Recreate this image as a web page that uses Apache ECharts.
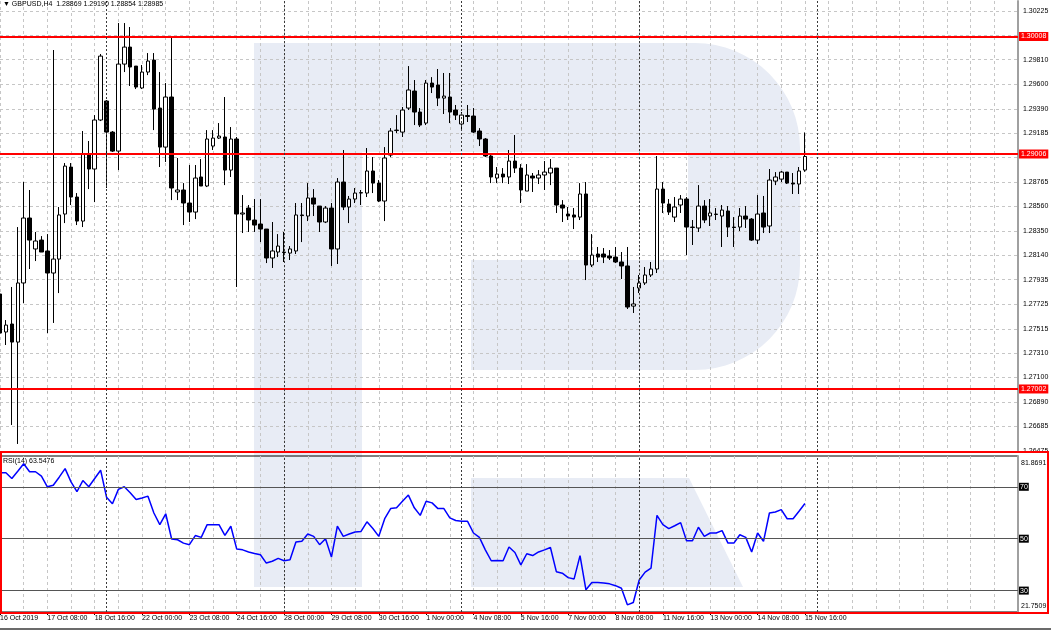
<!DOCTYPE html>
<html><head><meta charset="utf-8">
<script src="https://cdn.jsdelivr.net/npm/echarts@6/dist/echarts.min.js"></script>
<style>html,body{margin:0;padding:0;background:#fff}#c{width:1051px;height:630px}</style>
</head><body><div id="c"></div>
<script>
// ---------------- DATA ----------------
const symbolName = 'GBPUSD,H4';
const opens = [
1.27812,1.27488,1.27556,1.27402,1.27906,1.28460,1.28196,1.28272,1.28179,1.27991,
1.28110,1.28494,1.28895,1.28639,1.28434,1.29006,1.28878,1.29296,1.29458,1.29193,
1.29031,1.29773,1.29918,1.29756,1.29569,1.29705,1.29807,1.29398,1.29065,1.29492,
1.28682,1.28699,1.28588,1.28511,1.28810,1.28733,1.29074,1.29142,1.29151,1.28869,
1.29134,1.28494,1.28545,1.28443,1.28409,1.28366,1.28119,1.28170,1.28170,1.28161,
1.28179,1.28486,1.28477,1.28631,1.28562,1.28426,1.28545,1.28196,1.28767,1.28554,
1.28622,1.28673,1.28673,1.28861,1.28758,1.28605,1.28997,1.29206,1.29193,1.29398,
1.29543,1.29364,1.29270,1.29611,1.29594,1.29483,1.29492,1.29381,1.29262,1.29334,
1.29330,1.29202,1.29134,1.28989,1.28801,1.28835,1.28810,1.28946,1.28886,1.28690,
1.28818,1.28801,1.28827,1.28844,1.28886,1.28571,1.28494,1.28486,1.28468,1.28665,
1.28059,1.28153,1.28153,1.28136,1.28127,1.28085,1.28051,1.27709,1.27863,1.27906,
1.27974,1.28025,1.28707,1.28579,1.28468,1.28571,1.28622,1.28379,1.28375,1.28562,
1.28477,1.28490,1.28477,1.28520,1.28383,1.28383,1.28477,1.28451,1.28272,1.28503,
1.28392,1.28775,1.28792,1.28852,1.28758,1.28750,1.28869];
const highs = [
1.27889,1.27590,1.27872,1.28383,1.28767,1.28699,1.28341,1.28306,1.28323,1.29893,
1.28554,1.28929,1.28929,1.28673,1.29202,1.29117,1.29338,1.29859,1.29466,1.29202,
1.30123,1.30123,1.30089,1.29756,1.29765,1.29867,1.29867,1.29705,1.29611,1.30012,
1.28972,1.28758,1.28912,1.28912,1.28963,1.29210,1.29210,1.29270,1.29492,1.29236,
1.29151,1.28656,1.28571,1.28622,1.28622,1.28366,1.28426,1.28323,1.28341,1.28221,
1.28588,1.28588,1.28758,1.28707,1.28562,1.28562,1.28588,1.28801,1.29040,1.28648,
1.28716,1.28699,1.29057,1.28980,1.28784,1.29065,1.29227,1.29338,1.29407,1.29756,
1.29637,1.29398,1.29637,1.29662,1.29731,1.29697,1.29697,1.29424,1.29364,1.29424,
1.29398,1.29227,1.29142,1.29014,1.28895,1.28886,1.29040,1.29168,1.28920,1.28920,
1.28844,1.28869,1.28946,1.28963,1.28886,1.28613,1.28554,1.28545,1.28758,1.28767,
1.28323,1.28213,1.28204,1.28187,1.28213,1.28170,1.28213,1.27872,1.27974,1.28042,
1.28085,1.28989,1.28767,1.28622,1.28639,1.28656,1.28639,1.28443,1.28741,1.28613,
1.28622,1.28545,1.28571,1.28562,1.28468,1.28545,1.28562,1.28460,1.28656,1.28648,
1.28878,1.28852,1.28861,1.28852,1.28844,1.28895,1.29190];
const lows = [
1.27420,1.27377,1.26695,1.26533,1.27735,1.28025,1.28093,1.28170,1.27479,1.27565,
1.27820,1.28417,1.28571,1.28400,1.28383,1.28707,1.28596,1.29287,1.28716,1.29023,
1.28869,1.29705,1.29586,1.29560,1.29560,1.29679,1.29210,1.28895,1.28938,1.28613,
1.28613,1.28400,1.28426,1.28451,1.28733,1.28724,1.29040,1.29134,1.28741,1.28810,
1.27872,1.28332,1.28341,1.28341,1.28255,1.28076,1.28034,1.28127,1.28085,1.28102,
1.28153,1.28255,1.28434,1.28477,1.28341,1.28417,1.28051,1.28068,1.28528,1.28417,
1.28588,1.28571,1.28639,1.28673,1.28596,1.28434,1.28980,1.29185,1.29151,1.29381,
1.29253,1.29236,1.29253,1.29526,1.29415,1.29347,1.29270,1.29296,1.29219,1.29279,
1.29185,1.29074,1.28980,1.28758,1.28758,1.28758,1.28750,1.28844,1.28588,1.28690,
1.28682,1.28750,1.28699,1.28741,1.28503,1.28426,1.28443,1.28366,1.28443,1.27931,
1.28042,1.28085,1.28076,1.28102,1.28076,1.27940,1.27684,1.27650,1.27820,1.27889,
1.27957,1.27991,1.28503,1.28486,1.28426,1.28503,1.28144,1.28230,1.28341,1.28417,
1.28392,1.28443,1.28213,1.28298,1.28213,1.28349,1.28375,1.28264,1.28238,1.28332,
1.28332,1.28741,1.28767,1.28750,1.28665,1.28665,1.28854];
const closes = [
1.27479,1.27547,1.27402,1.27906,1.28460,1.28272,1.28264,1.28170,1.27991,1.28110,
1.28486,1.28903,1.28639,1.28434,1.29006,1.28878,1.29296,1.29841,1.29193,1.29031,
1.29773,1.29918,1.29748,1.29577,1.29705,1.29799,1.29389,1.29065,1.29492,1.28716,
1.28699,1.28588,1.28511,1.28801,1.28733,1.29134,1.29142,1.29159,1.28869,1.29134,
1.28494,1.28503,1.28443,1.28400,1.28366,1.28119,1.28179,1.28221,1.28166,1.28196,
1.28486,1.28481,1.28631,1.28579,1.28426,1.28545,1.28196,1.28767,1.28554,1.28622,
1.28673,1.28677,1.28861,1.28758,1.28605,1.28972,1.29202,1.29210,1.29381,1.29552,
1.29364,1.29253,1.29611,1.29577,1.29483,1.29500,1.29364,1.29338,1.29338,1.29326,
1.29193,1.29134,1.28989,1.28810,1.28835,1.28810,1.28946,1.28886,1.28699,1.28827,
1.28801,1.28827,1.28852,1.28886,1.28571,1.28545,1.28477,1.28468,1.28665,1.28059,
1.28144,1.28127,1.28127,1.28119,1.28085,1.28051,1.27701,1.27727,1.27906,1.27974,
1.28025,1.28707,1.28588,1.28511,1.28554,1.28622,1.28383,1.28383,1.28562,1.28443,
1.28503,1.28494,1.28528,1.28383,1.28379,1.28477,1.28451,1.28272,1.28494,1.28383,
1.28784,1.28810,1.28852,1.28758,1.28750,1.28861,1.28985];
const rsiPeriod = 14;
const rsi = [
75.4,75.4,73.2,76.0,78.9,75.8,75.8,74.1,70.0,70.6,
73.7,77.0,71.9,68.1,72.4,70.0,73.2,76.4,66.0,63.5,
69.0,70.0,67.7,65.1,65.7,66.4,59.9,55.4,59.6,49.9,
49.6,48.3,47.7,51.2,50.5,55.4,55.4,55.4,51.3,54.8,
46.0,45.7,44.9,44.3,43.8,40.6,41.3,42.4,41.5,41.9,
48.7,49.0,51.8,50.9,47.7,50.0,42.9,54.8,50.9,51.8,
52.6,52.8,56.5,53.9,50.9,57.7,61.6,61.9,64.4,66.8,
61.9,59.0,64.4,63.8,61.6,61.6,58.0,57.0,56.7,56.7,
52.2,50.5,45.7,41.5,41.6,41.5,46.8,44.7,39.9,44.2,
43.5,44.9,45.7,46.6,37.3,36.7,35.0,34.5,43.5,30.3,
33.1,33.1,32.9,32.6,31.9,30.9,24.5,25.4,34.1,37.1,
38.7,59.0,55.4,53.9,55.0,56.2,49.2,49.2,54.4,50.9,
52.2,52.2,53.1,48.3,48.3,51.5,50.5,44.9,52.2,49.0,
59.9,60.3,61.2,57.7,57.7,60.6,63.5476];
const tickLabels = ['16 Oct 2019','17 Oct 08:00','18 Oct 16:00','22 Oct 00:00','23 Oct 08:00','24 Oct 16:00',
  '28 Oct 00:00','29 Oct 08:00','30 Oct 16:00','1 Nov 00:00','4 Nov 08:00','5 Nov 16:00',
  '7 Nov 00:00','8 Nov 08:00','11 Nov 16:00','13 Nov 00:00','14 Nov 08:00','15 Nov 16:00'];
const labelEvery = 8;          // bars between time labels
const gridEvery = 4;           // bars between vertical grid lines
const weekStarts = [18, 48, 78, 108, 138];  // bar index of Monday 00:00 (period separators)
const totalSlots = 173;        // bars + empty shift space on the right
const levels = [1.30008, 1.29006, 1.27002];
const priceGrid = [1.30225,1.30015,1.29810,1.29600,1.29390,1.29185,1.28975,1.28765,1.28560,1.28350,
  1.28140,1.27935,1.27725,1.27515,1.27310,1.27100,1.26890,1.26685,1.26475];
const priceLabels = ['1.30225','1.29810','1.29600','1.29390','1.29185','1.28765','1.28560','1.28350',
  '1.28140','1.27935','1.27725','1.27515','1.27310','1.27100','1.26890','1.26685','1.26475'];
const priceRange = [1.26473, 1.30311];
const rsiLevels = [70, 50, 30];
const rsiRange = [21.7509, 81.8691];

// ---------------- CHART ----------------
const FONT = "'Liberation Sans', Arial, 'DejaVu Sans', sans-serif";
const categories = Array.from({length: totalSlots}, (_, i) => String(i));
const candles = opens.map((o, i) => [o, closes[i], lows[i], highs[i]]);
const last = opens.length - 1;
const gridLine = {show: true, interval: (i) => i % gridEvery === 0, lineStyle: {color: '#c6c6c6', type: [3, 3], width: 1}};
const sepLines = weekStarts.map(i => ({xAxis: i, lineStyle: {color: '#3a3a3a', width: 1, type: [2, 2]}, label: {show: false}}));
const WM = '#e8ecf5';

function arcPts(cx, cy, r, a0, a1, n) {
  const pts = [];
  for (let k = 0; k <= n; k++) {
    const a = (a0 + (a1 - a0) * k / n) * Math.PI / 180;
    pts.push([cx + r * Math.cos(a), cy + r * Math.sin(a)]);
  }
  return pts;
}
const bowl = [[254, 43]].concat(arcPts(695, 148, 105, -90, 0, 16), arcPts(695, 265, 105, 0, 90, 16),
  [[471, 370], [471, 260], [688, 260], [688, 152], [362, 152], [362, 587], [254, 587]]);
const leg = [[471, 478], [689, 478], [743, 587], [471, 587]];

const chart = echarts.init(document.getElementById('c'), null, {renderer: 'canvas'});
chart.setOption({
  animation: false,
  backgroundColor: '#ffffff',
  textStyle: {fontFamily: FONT},
  graphic: [
    {type: 'polygon', z: -100, silent: true, shape: {points: bowl}, style: {fill: WM}},
    {type: 'polygon', z: -100, silent: true, shape: {points: leg}, style: {fill: WM}},
    {type: 'text', left: 3, top: 1, z: 50, style: {
      text: '\u25BC ' + symbolName + '  ' + [opens[last], highs[last], lows[last], closes[last]].map(v => v.toFixed(5)).join(' '),
      fontSize: 7, fontFamily: FONT, fill: '#000'}},
    {type: 'text', left: 3, top: 458, z: 50, style: {
      text: 'RSI(' + rsiPeriod + ') ' + rsi[last].toFixed(4), fontSize: 7, fontFamily: FONT, fill: '#000'}},
    {type: 'rect', z: 100, silent: true, shape: {x: 1, y: 452, width: 1047, height: 161},
      style: {fill: 'none', stroke: '#ff0000', lineWidth: 2}},
    {type: 'rect', z: 100, silent: true, shape: {x: 0, y: 628, width: 1051, height: 2}, style: {fill: '#6b6b6b'}}
  ],
  grid: [
    {left: 0, top: 1, width: 1018, height: 450, containLabel: false, outerBoundsMode: 'none'},
    {left: 0, top: 456, width: 1018, height: 156, containLabel: false, outerBoundsMode: 'none',
      show: true, borderColor: '#000', borderWidth: 1}
  ],
  xAxis: [
    {gridIndex: 0, type: 'category', data: categories, boundaryGap: false,
      axisLine: {show: false}, axisTick: {show: false}, axisLabel: {show: false}, splitLine: gridLine},
    {gridIndex: 1, type: 'category', data: categories, boundaryGap: false,
      axisLine: {show: true, lineStyle: {color: '#000', width: 1}},
      axisTick: {show: true, interval: (i) => i % labelEvery === 0 && i / labelEvery < tickLabels.length, length: 3, lineStyle: {color: '#000'}},
      axisLabel: {show: true, interval: (i) => i % labelEvery === 0 && i / labelEvery < tickLabels.length,
        formatter: (v, i) => tickLabels[Math.round(i / labelEvery)] || '', align: 'left', margin: 3,
        fontSize: 7, fontFamily: FONT, color: '#000'},
      splitLine: gridLine}
  ],
  yAxis: [
    {gridIndex: 0, type: 'value', position: 'right', min: priceRange[0], max: priceRange[1],
      axisLine: {show: true, lineStyle: {color: '#a0a0a0', width: 2}},
      axisTick: {show: false, customValues: priceGrid},
      axisLabel: {show: true, customValues: priceLabels.map(Number), formatter: (v) => v.toFixed(5),
        margin: 5, fontSize: 7, fontFamily: FONT, color: '#000'},
      splitLine: {show: true, lineStyle: {color: '#c6c6c6', type: [3, 3], width: 1}}},
    {gridIndex: 1, type: 'value', position: 'right', min: rsiRange[0], max: rsiRange[1],
      axisLine: {show: true, lineStyle: {color: '#a0a0a0', width: 2}},
      axisTick: {show: false},
      splitLine: {show: false},
      axisLabel: {show: true, customValues: [rsiRange[0]].concat(rsiLevels, [rsiRange[1]]), margin: 1,
        fontSize: 7, fontFamily: FONT, color: '#000',
        formatter: (v) => {
          if (Math.abs(v - rsiRange[1]) < 1e-6) return '{mx|' + v.toFixed(4) + '}';
          if (Math.abs(v - rsiRange[0]) < 1e-6) return '{mn|' + v.toFixed(4) + '}';
          return '{lv|' + v + '}';
        },
        rich: {
          mx: {padding: [14, 0, 0, 2], fontSize: 7, fontFamily: FONT, color: '#000'},
          mn: {padding: [0, 0, 11, 2], fontSize: 7, fontFamily: FONT, color: '#000'},
          lv: {backgroundColor: '#000', color: '#fff', padding: [1, 1, 0, 1], fontSize: 7, fontFamily: FONT}
        }}}
  ],
  series: [
    {type: 'candlestick', xAxisIndex: 0, yAxisIndex: 0, data: candles, barWidth: 4,
      itemStyle: {color: '#ffffff', color0: '#000000', borderColor: '#000000', borderColor0: '#000000', borderWidth: 1},
      markLine: {symbol: ['none', 'none'], silent: true, animation: false, precision: 5,
        data: levels.map((v, k) => ({yAxis: v, lineStyle: {color: '#ff0000', width: 2, type: 'solid'},
          label: {show: true, position: 'end', distance: 1, formatter: () => levels[k].toFixed(5),
            color: '#fff', backgroundColor: '#ff0000', padding: [1, 2, 1, 2], fontSize: 7, fontFamily: FONT}})).concat(sepLines)}},
    {type: 'line', xAxisIndex: 1, yAxisIndex: 1, data: rsi, symbol: 'none', showSymbol: false,
      lineStyle: {color: '#0000ff', width: 1.5},
      markLine: {symbol: ['none', 'none'], silent: true, animation: false,
        data: rsiLevels.map(v => ({yAxis: v, lineStyle: {color: '#555555', width: 1, type: 'solid'}, label: {show: false}})).concat(sepLines)}}
  ]
});
</script>
</body></html>
